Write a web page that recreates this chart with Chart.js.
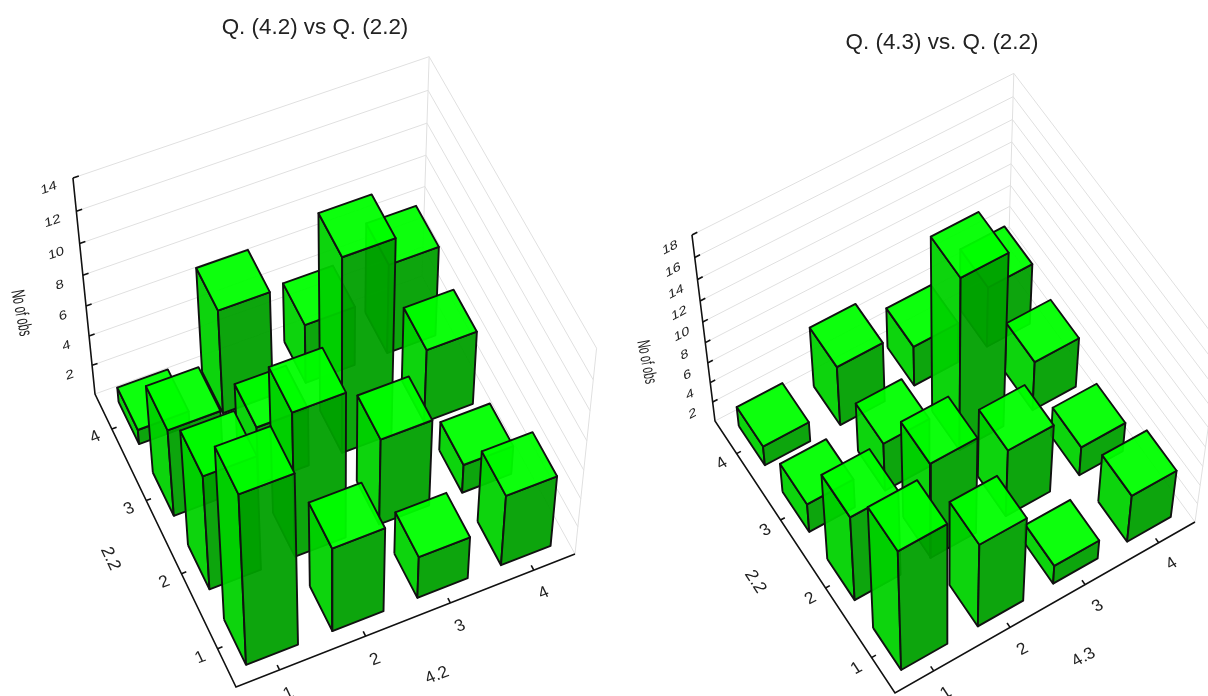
<!DOCTYPE html>
<html><head><meta charset="utf-8">
<script src="https://cdn.jsdelivr.net/npm/chart.js@4"></script>
<style>
html,body{margin:0;padding:0;background:#fff;width:1208px;height:696px;overflow:hidden}
.w{position:absolute;top:0;height:696px}
</style></head><body>
<div class="w" style="left:0;width:630px"><canvas id="a" width="630" height="696"></canvas></div>
<div class="w" style="left:630px;width:624px"><canvas id="b" width="624" height="696"></canvas></div>
<script>
const categories = ['1','2','3','4'];
const zTicksA = [2,4,6,8,10,12,14];
const zTicksB = [2,4,6,8,10,12,14,16,18];
// counts per 2.2 category, each listing the x-axis categories 1..4
const a22row1 = [12,6,3,5];
const a22row2 = [8,10,6,2];
const a22row3 = [6,4,13,5];
const a22row4 = [1,7,4,6];
const b22row1 = [13,9,2,5];
const b22row2 = [9,10,7,3];
const b22row3 = [3,5,17,5];
const b22row4 = [2,6,4,6];

const FACE_TOP='rgba(0,255,0,.95)', FACE_LEFT='rgba(0,210,0,.95)', FACE_FRONT='rgba(0,160,0,.95)';
const GRID='#e0e0e0', INK='#111', TEXT='#222';
const FONT='"Liberation Sans", Arial, sans-serif';

function camera(p){
  const [x0,y0]=p.front,[x1,y1]=p.right,[x2,y2]=p.back,[x3,y3]=p.left;
  const dx1=x1-x2,dx2=x3-x2,sx=x0-x1+x2-x3,dy1=y1-y2,dy2=y3-y2,sy=y0-y1+y2-y3;
  const den=dx1*dy2-dx2*dy1;
  const g=(sx*dy2-dx2*sy)/den,h=(dx1*sy-sx*dy1)/den;
  const a=x1-x0+g*x1,b=x3-x0+h*x3,c=x0,d=y1-y0+g*y1,e=y3-y0+h*y3,f=y0;
  const w0=h+1, wz=w0*(p.leftTopY-y3)/(p.nadir[1]-p.leftTopY);
  return (u,v,z)=>{
    const w=g*u+h*v+1+wz*z;
    return {x:(a*u+b*v+c+wz*z*p.nadir[0])/w, y:(d*u+e*v+f+wz*z*p.nadir[1])/w};
  };
}

function panel(canvasId,cfg){
  const P=camera(cfg), zn=v=>v/cfg.zMax, ds=[];
  const line=(pts,color,width)=>ds.push({data:pts,showLine:true,fill:false,borderColor:color,borderWidth:width,pointRadius:0,clip:false,tension:0});
  const face=(pts,color)=>ds.push({data:[...pts,pts[0]],showLine:true,fill:'shape',backgroundColor:color,borderColor:INK,borderWidth:1.9,borderJoinStyle:'round',pointRadius:0,clip:false,tension:0});
  const levels=[0,...cfg.zTicks];
  levels.forEach(t=>{const z=zn(t);line([P(0,1,z),P(1,1,z),P(1,0,z)],GRID,1)});
  line([P(1,1,0),P(1,1,1)],GRID,1);
  line([P(1,0,0),P(1,0,1)],GRID,1);
  // axes
  line([P(0,1,1),P(0,1,0),P(0,0,0),P(1,0,0)],INK,1.6);
  cfg.zTicks.forEach(t=>{const z=zn(t);line([P(0,1,z),P(.016,1,z)],INK,1.6)});
  categories.forEach((c,k)=>{const m=(k+.5)/4;
    line([P(0,m,0),P(.014,m,0)],INK,1.6);
    line([P(m,0,0),P(m,.016,0)],INK,1.6);
  });
  // bars, back to front
  const hw=.075;
  for(let j=3;j>=0;j--)for(let i=3;i>=0;i--){
    const u=(i+.5)/4,v=(j+.5)/4,z=zn(cfg.rows[j][i]);
    const u0=u-hw,u1=u+hw,v0=v-hw,v1=v+hw;
    face([P(u0,v1,0),P(u0,v0,0),P(u0,v0,z),P(u0,v1,z)],FACE_LEFT);
    face([P(u0,v0,0),P(u1,v0,0),P(u1,v0,z),P(u0,v0,z)],FACE_FRONT);
    face([P(u0,v0,z),P(u1,v0,z),P(u1,v1,z),P(u0,v1,z)],FACE_TOP);
  }
  ds.forEach((d,k)=>d.order=-k);

  const labels={id:'labels3d',afterDraw(chart){
    const ctx=chart.ctx,X=chart.scales.x,Y=chart.scales.y;
    const norm=(a,b)=>{const dx=b.x-a.x,dy=b.y-a.y,l=Math.hypot(dx,dy);return [dx/l,dy/l]};
    const eu=norm(P(0,1,0),P(1,1,0)), ev=norm(P(0,1,0),P(0,0,0));
    const put=(txt,pt,bx,by,dx,dy,size)=>{
      ctx.save();
      ctx.setTransform(bx,by,dx,dy,X.getPixelForValue(pt.x),Y.getPixelForValue(pt.y));
      ctx.font=size+'px '+FONT;ctx.fillStyle=TEXT;ctx.textAlign='center';ctx.textBaseline='middle';
      ctx.fillText(txt,0,0);ctx.restore();
    };
    const floor=(txt,pt)=>put(txt,pt,eu[0],eu[1],ev[0],ev[1],17);
    cfg.zTicks.forEach(t=>{
      put(String(t),P(-.066,1,zn(t)-.008),eu[0]*1.05,eu[1]*1.05,.12,.85,14.5);
    });
    categories.forEach((c,k)=>{const m=(k+.5)/4;
      floor(c,P(-.052,m-.006,0));
      floor(c,P(m-.006,-.075,0));
    });
    floor(cfg.xName,P(.5,-.185,0));
    put('2.2',P(-.157,.495,0),ev[0],ev[1],-eu[0],-eu[1],17.5);
    put('No of obs',P(-.18,1,.5),.11,.56,-.98,.18,cfg.nameSize);
  }};

  new Chart(document.getElementById(canvasId),{
    type:'scatter',
    data:{datasets:ds},
    plugins:[labels],
    options:{
      responsive:false,animation:false,events:[],
      layout:{padding:0},
      parsing:false,normalized:false,
      scales:{
        x:{type:'linear',display:false,min:cfg.x0,max:cfg.x0+cfg.w},
        y:{type:'linear',display:false,reverse:true,min:cfg.titleH,max:696}
      },
      plugins:{
        legend:{display:false},tooltip:{enabled:false},
        title:{display:true,text:cfg.title,color:'#222',font:{family:FONT,size:22.4,weight:'normal',lineHeight:1.2},
          padding:{top:cfg.titleH-26.88,bottom:0}}
      }
    }
  });
}

panel('a',{title:'Q. (4.2) vs Q. (2.2)',xName:'4.2',rows:[a22row1,a22row2,a22row3,a22row4],zTicks:zTicksA,zMax:14,
  front:[236,687],right:[575,554],back:[422,276],left:[95,394],leftTopY:178,nadir:[340,2794],
  x0:0,w:630,titleH:41,nameSize:19});
panel('b',{title:'Q. (4.3) vs. Q. (2.2)',xName:'4.3',rows:[b22row1,b22row2,b22row3,b22row4],zTicks:zTicksB,zMax:18,
  front:[895,693],right:[1195,522],back:[1008,267],left:[715,421],leftTopY:235,nadir:[947,2294],
  x0:630,w:624,titleH:56,nameSize:18});
</script>
</body></html>
